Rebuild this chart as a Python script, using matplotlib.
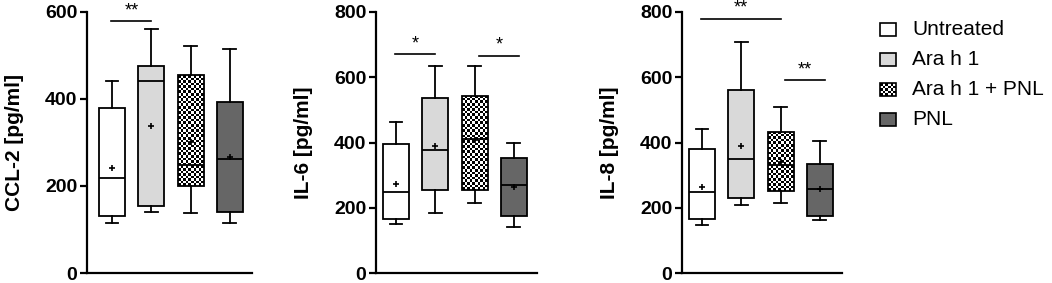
import numpy as np
import matplotlib
matplotlib.use('Agg')
import matplotlib.pyplot as plt
from matplotlib.patches import Rectangle

plt.rcParams['font.family'] = ['Liberation Sans', 'DejaVu Sans']

groups = ['Untreated', 'Ara h 1', 'Ara h 1 + PNL', 'PNL']
face_colors = ['white', '#d9d9d9', 'checker', '#666666']

# box stats per panel: whisker low, q1, median, q3, whisker high, mean
ccl2_lo = [116, 140, 137, 116]
ccl2_q1 = [130, 153, 201, 140]
ccl2_med = [218, 441, 249, 263]
ccl2_q3 = [380, 475, 456, 392]
ccl2_hi = [442, 562, 521, 515]
ccl2_mean = [242, 337, 302, 267]

il6_lo = [150, 184, 216, 142]
il6_q1 = [166, 253, 254, 176]
il6_med = [248, 377, 410, 269]
il6_q3 = [395, 536, 543, 351]
il6_hi = [464, 633, 633, 398]
il6_mean = [272, 388, 407, 265]

il8_lo = [147, 207, 214, 163]
il8_q1 = [167, 229, 250, 176]
il8_med = [248, 348, 332, 257]
il8_q3 = [380, 561, 433, 333]
il8_hi = [442, 707, 508, 406]
il8_mean = [263, 388, 339, 258]

# significance: (group i, group j, y, label)
ccl2_sig = [(1, 2, 579, '**')]
il6_sig = [(1, 2, 671, '*'), (3, 4, 665, '*')]
il8_sig = [(1, 3, 779, '**'), (3, 4, 591, '**')]

# label, ymax, ticks, stats, sig, axes left px, axes width px, first box offset px
panels = [
    ('CCL-2 [pg/ml]', 600, [0, 200, 400, 600], (ccl2_lo, ccl2_q1, ccl2_med, ccl2_q3, ccl2_hi, ccl2_mean), ccl2_sig, 87, 165, 25),
    ('IL-6 [pg/ml]', 800, [0, 200, 400, 600, 800], (il6_lo, il6_q1, il6_med, il6_q3, il6_hi, il6_mean), il6_sig, 376, 161, 20),
    ('IL-8 [pg/ml]', 800, [0, 200, 400, 600, 800], (il8_lo, il8_q1, il8_med, il8_q3, il8_hi, il8_mean), il8_sig, 682, 160, 20),
]

W, H = 1052, 283
fig = plt.figure(figsize=(W / 100, H / 100), dpi=100)

CELL = 2.6  # checker cell in pixels
STEP = 39.3  # px between boxes
pos = np.arange(1, 5)
bw = 0.66


def checker(ax, x0, x1, y0, y1, clip):
    p0 = ax.transData.transform((x0, y0))
    p1 = ax.transData.transform((x1, y1))
    nx = max(1, int(round(abs(p1[0] - p0[0]) / CELL)))
    ny = max(1, int(round(abs(p1[1] - p0[1]) / CELL)))
    arr = np.indices((ny, nx)).sum(0) % 2
    im = ax.imshow(arr, cmap='gray', extent=[x0, x1, y0, y1], aspect='auto',
                   interpolation='nearest', zorder=1.5, origin='lower')
    if clip is not None:
        im.set_clip_path(clip)
    return im


for label, ymax, ticks, stats, sig, xpx, wpx, off in panels:
    ax = fig.add_axes([xpx / W, 10 / H, wpx / W, 261 / H])
    xl = (1 - off / STEP, 1 - off / STEP + wpx / STEP)
    ax.set_xlim(xl)
    ax.set_ylim(0, ymax)
    lo, q1, med, q3, hi, mean = stats
    bxp_stats = []
    for i in range(4):
        bxp_stats.append(dict(whislo=lo[i], q1=q1[i], med=med[i], q3=q3[i],
                              whishi=hi[i], mean=mean[i], fliers=[]))
    bp = ax.bxp(bxp_stats, positions=pos, widths=bw, patch_artist=True,
                showmeans=True, capwidths=bw * 0.5,
                boxprops=dict(linewidth=1.3, edgecolor='black'),
                whiskerprops=dict(linewidth=1.3, color='black'),
                capprops=dict(linewidth=1.3, color='black'),
                medianprops=dict(linewidth=1.3, color='black'),
                meanprops=dict(marker='+', markersize=5, markeredgewidth=1.2,
                               markeredgecolor='black'))
    for i, (patch, fc) in enumerate(zip(bp['boxes'], face_colors)):
        if fc == 'checker':
            patch.set_facecolor('none')
            patch.set_zorder(2)
            checker(ax, pos[i] - bw / 2, pos[i] + bw / 2, q1[i], q3[i], patch)
        else:
            patch.set_facecolor(fc)
    for m in bp['means']:
        m.set_zorder(3)
    for l in bp['medians']:
        l.set_zorder(3)
    ax.set_xlim(xl)
    ax.set_ylim(0, ymax)

    for gi, gj, y, s in sig:
        shift = 0.12 if gj == 4 else 0.0
        ax.plot([gi - 0.02 + shift, gj + shift], [y, y], color='black', lw=1.2, clip_on=False)
        ax.text((gi + gj) / 2 + shift, y + ymax * 0.008, s, ha='center', va='bottom',
                fontsize=13, clip_on=False)

    ax.set_yticks(ticks)
    ax.set_xticks([])
    for sp in ['top', 'right']:
        ax.spines[sp].set_visible(False)
    for sp in ['left', 'bottom']:
        ax.spines[sp].set_linewidth(1.6)
    ax.tick_params(axis='y', length=5, width=1.6, labelsize=14, pad=2)
    for t in ax.get_yticklabels():
        t.set_fontweight('bold')
    ax.set_ylabel(label, fontsize=15, fontweight='bold', labelpad=15)

# legend drawn in its own axes, pixel-based layout
lax = fig.add_axes([0, 0, 1, 1])
lax.set_xlim(0, W)
lax.set_ylim(H, 0)
lax.axis('off')
for k, (g, fc) in enumerate(zip(groups, face_colors)):
    y0 = 23 + k * 30
    rect = Rectangle((880, y0), 16, 13, facecolor='none' if fc == 'checker' else fc,
                     edgecolor='black', linewidth=1.2, zorder=3)
    lax.add_patch(rect)
    if fc == 'checker':
        arr = np.indices((5, 6)).sum(0) % 2
        im = lax.imshow(arr, cmap='gray', extent=[880, 896, y0 + 13, y0],
                        aspect='auto', interpolation='nearest', zorder=2)
        im.set_clip_path(rect)
    lax.text(912, y0 + 6.5, g, fontsize=15, va='center', ha='left')
lax.set_xlim(0, W)
lax.set_ylim(H, 0)

fig.savefig('out.png', dpi=100)
